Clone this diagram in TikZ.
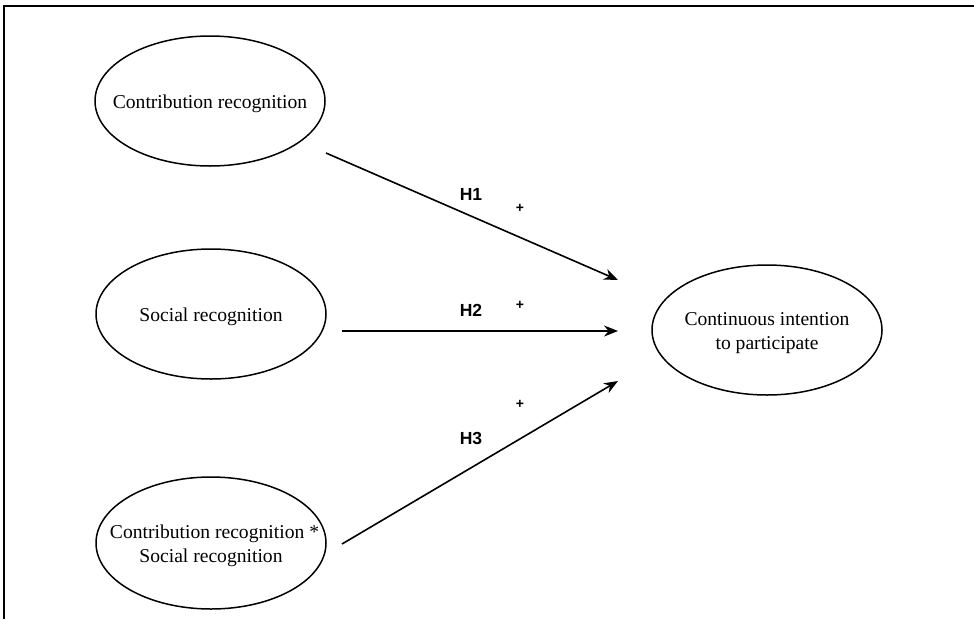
\documentclass[tikz,border=0pt]{standalone}
\usepackage{fontspec}
\setmainfont{Liberation Serif}
\newfontfamily\hfont{Liberation Sans}
\usetikzlibrary{shapes.geometric,arrows.meta}
\begin{document}
\begin{tikzpicture}[x=1pt,y=-1pt,
  construct/.style={draw,line width=1.5pt,ellipse,minimum width=230pt,minimum height=130pt,inner sep=0pt},
  ctext/.style={inner sep=0pt,align=center,font=\fontsize{19.6}{24.5}\selectfont},
  path/.style={line width=1.6pt,-{Stealth[length=14pt,width=11pt]}},
  hlab/.style={font=\hfont\bfseries\fontsize{17.5}{20}\selectfont,inner sep=0pt},
  plab/.style={font=\hfont\bfseries\fontsize{14}{15}\selectfont,inner sep=0pt}]
\useasboundingbox (0,0) rectangle (974,619);
\draw[line width=2.5pt] (4,619) -- (4,6) -- (974,6);
\node[construct] (cr) at (210,101) {};
\node[construct] (sr) at (211,314) {};
\node[construct,minimum height=132pt] (int) at (211,543) {};
\node[construct] (ci) at (767,330) {};
\node[ctext] (crt) at ([yshift=-3pt]cr.center) {Contribution recognition};
\node[ctext] (srt) at ([yshift=-3pt]sr.center) {Social recognition};
\node[ctext] (intt) at ([yshift=-3pt]int.center) {\hspace*{7pt}Contribution recognition *\\Social recognition};
\node[ctext] (cit) at ([yshift=-3pt]ci.center) {Continuous intention\\to participate};
\coordinate (e1) at (618,280);
\coordinate (e2) at (618,331);
\coordinate (e3) at (618,381);
\coordinate (s1) at (326,153);
\coordinate (s2) at (342,331);
\coordinate (s3) at (342,544);
\draw[path] (s1) -- (e1);
\draw[path] (s2) -- (e2);
\draw[path] (s3) -- (e3);
\node[hlab] (h1) at (471,194) {H1};
\node[plab] (p1) at (520,208) {+};
\node[hlab] (h2) at (471,310) {H2};
\node[plab] (p2) at (520,305) {+};
\node[plab] (p3) at (520,404) {+};
\node[hlab] (h3) at (471,438) {H3};
\end{tikzpicture}
\end{document}
